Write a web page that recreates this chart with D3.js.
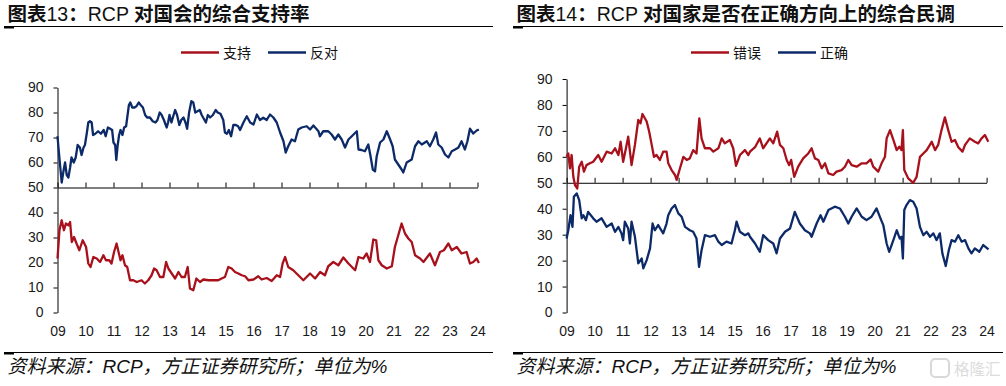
<!DOCTYPE html>
<html><head><meta charset="utf-8">
<script src="https://cdn.jsdelivr.net/npm/d3@7"></script>
<style>body{margin:0;background:#fff}svg{display:block}</style>
</head><body>
<svg id="c" width="1006" height="386"></svg>
<script>
// ---- data (decimal year, value %) ----
const yearTicks = d3.range(9, 25);
const valueTicks = [0,10,20,30,40,50,60,70,80,90];

const congressApprove = [[9.0,21.6],[9.07,32.9],[9.15,36.9],[9.23,32.9],[9.3,35.6],[9.39,34.9],[9.45,36.2],[9.51,28.2],[9.59,30.2],[9.68,27.6],[9.78,24.9],[9.9,28.9],[10.02,26.2],[10.1,19.6],[10.18,18.2],[10.28,22.2],[10.4,21.6],[10.52,20.2],[10.64,22.9],[10.73,20.9],[10.85,20.9],[10.93,19.6],[11.02,24.2],[11.11,27.6],[11.18,24.2],[11.25,20.9],[11.32,22.9],[11.41,18.9],[11.49,18.2],[11.59,12.9],[11.71,12.9],[11.83,12.2],[12.0,12.9],[12.12,11.6],[12.24,12.9],[12.36,14.9],[12.45,17.6],[12.54,16.9],[12.66,14.2],[12.78,14.2],[12.88,20.2],[12.96,17.6],[13.08,15.6],[13.2,13.6],[13.32,16.2],[13.43,14.2],[13.55,14.2],[13.65,18.2],[13.73,9.6],[13.85,8.9],[13.96,13.6],[14.09,12.2],[14.21,13.2],[14.39,12.9],[14.57,12.9],[14.74,12.9],[14.86,13.6],[14.98,14.2],[15.1,18.2],[15.22,17.6],[15.34,16.2],[15.46,15.6],[15.58,14.9],[15.7,14.5],[15.82,12.9],[16.0,13.2],[16.17,14.5],[16.29,13.2],[16.47,13.8],[16.65,12.6],[16.83,14.9],[16.95,14.2],[17.04,19.6],[17.13,22.2],[17.24,18.2],[17.42,16.9],[17.6,14.9],[17.78,12.9],[18.02,15.6],[18.2,13.6],[18.38,16.2],[18.55,14.9],[18.67,18.5],[18.85,20.2],[19.03,18.9],[19.21,22],[19.39,19.6],[19.63,16.9],[19.75,22.2],[19.92,21.6],[20.04,23.6],[20.16,20.2],[20.28,29.2],[20.38,28.9],[20.46,20.9],[20.58,18.9],[20.76,17.6],[20.94,18.5],[21.05,26.2],[21.17,30.9],[21.29,35.6],[21.41,31.6],[21.53,29.6],[21.65,28.2],[21.77,22.9],[21.95,21.6],[22.07,20.2],[22.3,23.6],[22.48,18.9],[22.66,24.2],[22.8,24.9],[22.96,27.6],[23.08,24.9],[23.26,26.2],[23.43,23.6],[23.61,24.2],[23.73,19.6],[23.85,20.2],[23.97,21.6],[24.05,19.8]];

const congressDisapprove = [[9.0,70.5],[9.05,64],[9.1,58],[9.15,52],[9.22,57],[9.27,60],[9.33,55],[9.39,54],[9.45,58],[9.5,62],[9.58,60],[9.65,62],[9.72,67],[9.8,66],[9.86,63],[9.93,66],[9.98,67],[10.05,72],[10.1,76],[10.16,76.5],[10.22,76],[10.27,71],[10.35,71.5],[10.45,72.5],[10.55,71.5],[10.65,73],[10.72,70.5],[10.8,74],[10.88,73.5],[10.95,73],[11.0,68],[11.06,67],[11.1,61],[11.15,67],[11.2,71],[11.25,73],[11.32,71],[11.38,74],[11.45,74.5],[11.55,83],[11.6,84],[11.67,82],[11.75,82],[11.82,82.5],[11.9,84],[11.97,83],[12.05,82],[12.13,79],[12.2,78],[12.3,78],[12.4,76.5],[12.5,76],[12.57,77],[12.65,80],[12.72,79],[12.8,77],[12.9,74],[12.95,76],[13.0,79],[13.07,76],[13.12,78],[13.2,81],[13.27,79],[13.35,75],[13.42,77],[13.5,78],[13.57,76],[13.63,73.5],[13.7,80],[13.78,84.5],[13.85,84],[13.92,80],[14.0,80.5],[14.08,81],[14.15,79],[14.25,77],[14.3,76],[14.37,79],[14.45,78],[14.55,79],[14.65,81],[14.72,80],[14.82,79.5],[14.92,77],[14.98,72],[15.05,71.5],[15.12,73],[15.2,70.5],[15.28,75],[15.37,75],[15.45,74.5],[15.52,73],[15.64,76],[15.76,78.5],[15.88,76],[16.0,75.2],[16.12,79.2],[16.23,77],[16.35,77.9],[16.47,77],[16.59,79.2],[16.71,78],[16.83,76],[16.95,72],[17.07,68.5],[17.15,64],[17.24,66.5],[17.36,69.2],[17.48,68.5],[17.6,73.2],[17.72,74],[17.9,74.5],[18.02,73.2],[18.14,74.8],[18.32,72.5],[18.37,70.5],[18.49,72.5],[18.67,72.5],[18.79,71.2],[18.91,69.2],[19.03,71.2],[19.15,69.2],[19.27,66],[19.39,69.2],[19.51,70.5],[19.69,72.5],[19.75,65.2],[19.86,65],[19.98,64.5],[20.1,67.2],[20.18,62.5],[20.26,57.2],[20.34,56.5],[20.4,62.5],[20.52,68],[20.64,69.2],[20.76,72.5],[20.88,69.2],[20.97,66.5],[21.05,61.2],[21.17,59.2],[21.29,57.2],[21.35,56],[21.47,60],[21.65,61.2],[21.77,66.5],[21.89,68.5],[22.01,67.2],[22.19,68.5],[22.3,66.5],[22.42,69.2],[22.52,72],[22.6,67.2],[22.72,66],[22.84,63.2],[22.96,62],[23.08,64.5],[23.2,65.2],[23.32,66],[23.43,68.5],[23.55,65.2],[23.64,68.5],[23.73,73.5],[23.85,71.6],[23.97,72.8],[24.05,73.2]];

const wrongTrack = [[9.0,60],[9.06,61.3],[9.12,55.6],[9.18,60.7],[9.24,52.3],[9.3,49.1],[9.38,47.8],[9.45,56.2],[9.54,58.1],[9.62,54.3],[9.71,56.8],[9.83,57.5],[9.95,58.1],[10.13,60.7],[10.25,58.1],[10.43,62],[10.61,61.3],[10.73,63.3],[10.85,60.7],[10.93,65.8],[11.02,58.1],[11.12,63.3],[11.2,67.8],[11.32,56.8],[11.44,64.6],[11.56,74.2],[11.64,72.9],[11.71,76.5],[11.86,73.6],[11.95,69.7],[12.04,64.6],[12.12,60],[12.21,60.7],[12.33,58.8],[12.45,62],[12.57,62],[12.63,57.5],[12.75,54.9],[12.87,53],[12.93,51.1],[13.05,55.6],[13.17,60],[13.29,58.8],[13.4,59.4],[13.52,62.6],[13.64,61.3],[13.74,74.8],[13.82,67.1],[13.94,63.3],[14.12,63.3],[14.24,62],[14.42,63.3],[14.54,67.1],[14.65,65.2],[14.83,66.5],[14.95,63.3],[15.05,56.5],[15.19,60.7],[15.37,62.6],[15.49,60.7],[15.55,62],[15.73,63.7],[15.9,67.1],[16.02,63.3],[16.26,67.1],[16.38,65.2],[16.52,69.7],[16.62,64.6],[16.74,63.3],[16.86,58.8],[16.95,56.8],[17.02,58.8],[17.13,52.3],[17.27,56.2],[17.45,59.4],[17.63,61.3],[17.75,63.3],[17.87,59.4],[17.99,58.8],[18.11,55.6],[18.23,57.5],[18.35,53.6],[18.52,53],[18.64,54.3],[18.82,54.9],[18.94,56.2],[19.06,58.8],[19.18,56.8],[19.36,56.2],[19.54,57.5],[19.71,57.5],[19.86,59],[19.95,56.2],[20.13,54.3],[20.25,57.5],[20.37,60],[20.43,67.1],[20.55,70.3],[20.67,66.5],[20.79,62.6],[20.88,63.9],[20.96,62.6],[21.01,70.3],[21.06,54.9],[21.2,51.7],[21.38,50],[21.5,52.3],[21.62,60],[21.74,61.3],[21.86,62.6],[22.04,65.8],[22.16,62.6],[22.27,64.6],[22.39,70.3],[22.51,75.2],[22.63,70.3],[22.75,65.8],[22.87,66.5],[22.99,63.7],[23.14,62],[23.23,64.6],[23.4,67.1],[23.58,65.8],[23.7,65.2],[23.82,67.1],[23.94,68.4],[24.06,65.8]];

const rightDirection = [[9.0,28.5],[9.06,31.7],[9.14,37.5],[9.21,33],[9.26,44.6],[9.36,45.9],[9.45,43.3],[9.54,36.3],[9.6,37.5],[9.69,35.6],[9.77,38.8],[9.95,36.3],[10.07,35],[10.25,36.3],[10.43,33],[10.61,34.3],[10.73,31.1],[10.85,33],[10.96,30.5],[11.02,27.9],[11.08,35],[11.2,32.4],[11.26,26.6],[11.32,35],[11.44,29.2],[11.56,18.9],[11.68,20.8],[11.74,17],[11.86,20.2],[11.98,24.7],[12.07,34.3],[12.15,31.7],[12.27,33.7],[12.45,30.5],[12.57,34.3],[12.63,37.5],[12.75,40.1],[12.87,41.4],[12.99,38.2],[13.11,36.9],[13.23,33],[13.4,31.7],[13.52,31.1],[13.64,28.5],[13.73,17.6],[13.82,24],[13.94,29.8],[14.12,29.2],[14.3,29.8],[14.42,27.3],[14.54,26],[14.71,27.3],[14.89,26.6],[15.01,31.7],[15.07,35],[15.19,31.1],[15.37,29.8],[15.49,30.5],[15.55,29.2],[15.73,26.6],[15.9,23.4],[16.02,29.8],[16.2,27.9],[16.38,26.6],[16.5,22.8],[16.62,28.5],[16.8,31.1],[16.98,32.4],[17.15,38.8],[17.33,34.3],[17.51,31.7],[17.69,30.5],[17.75,29.2],[17.93,34.3],[18.07,37.5],[18.17,35],[18.35,39.5],[18.58,40.8],[18.76,40.1],[18.94,36.9],[19.06,34.3],[19.18,36.9],[19.36,40.1],[19.54,36.9],[19.71,35.6],[19.89,36.9],[20.07,40.1],[20.21,36.3],[20.31,33.7],[20.43,26.6],[20.52,23.4],[20.67,27.9],[20.79,31.7],[20.9,28.5],[20.96,29.2],[21.01,20.8],[21.06,39.5],[21.14,41.4],[21.26,43.3],[21.38,42.7],[21.5,40.1],[21.62,33],[21.74,29.8],[21.86,31.1],[21.98,29.2],[22.1,30.5],[22.21,27.9],[22.33,30.5],[22.42,22.8],[22.54,17.9],[22.65,24],[22.75,27.9],[22.87,27.3],[22.99,29.8],[23.11,27.3],[23.23,27.9],[23.35,24.7],[23.46,22.8],[23.58,24.7],[23.74,23.4],[23.88,26],[24.07,24.3]];

const RED = "#a8111c", BLUE = "#0c2a68";
const LATIN = "'Liberation Sans', Arial, 'Noto Sans CJK SC', sans-serif";
const CJK = "'Liberation Sans', 'Noto Sans CJK SC', sans-serif";

const svg = d3.select("#c");

const charts = [
  {ox: 0, axisX: 57.5, y90: 87.5, title: ["图表", "13", "：", "RCP ", "对国会的综合支持率"],
   lineEnd: 493, legendX: 181,
   series: [{name:"支持", data: congressApprove, color: RED},
            {name:"反对", data: congressDisapprove, color: BLUE}]},
  {ox: 509, axisX: 566.6, y90: 79, title: ["图表", "14", "：", "RCP ", "对国家是否在正确方向上的综合民调"],
   lineEnd: 1003, legendX: 691,
   series: [{name:"错误", data: wrongTrack, color: RED},
            {name:"正确", data: rightDirection, color: BLUE}]}
];

charts.forEach(c => {
  const g = svg.append("g");
  const lx = c.ox + 4;
  // title: CJK parts heavier, Latin parts regular
  const t = g.append("text").attr("x", c.ox + 7.5).attr("y", 21)
    .attr("font-family", CJK).attr("font-size", 19.5).attr("fill", "#111");
  c.title.forEach(part => {
    const latin = /^[A-Za-z0-9 ]+$/.test(part);
    t.append("tspan").attr("font-weight", latin ? 400 : 600).text(part);
  });
  g.append("line").attr("x1", lx).attr("x2", c.lineEnd).attr("y1", 26.5).attr("y2", 26.5)
    .attr("stroke", "#000").attr("stroke-width", 1);
  g.append("rect").attr("x", lx).attr("y", 26).attr("width", 10).attr("height", 2.5).attr("fill", "#000");

  // legend
  let cx = c.legendX;
  c.series.forEach(s => {
    g.append("line").attr("x1", cx).attr("x2", cx + 38).attr("y1", 52.5).attr("y2", 52.5)
      .attr("stroke", s.color).attr("stroke-width", 2.5);
    g.append("text").attr("x", cx + 42).attr("y", 57.5)
      .attr("font-family", CJK).attr("font-size", 14).attr("fill", "#111").text(s.name);
    cx += 87;
  });

  // scales
  const x = d3.scaleLinear().domain([9, 24]).range([c.axisX, c.axisX + 420]);
  const y = d3.scaleLinear().domain([0, 90]).range([312.5, c.y90]);

  // y axis
  const ya = g.append("g").attr("transform", `translate(${c.axisX},0)`)
    .call(d3.axisLeft(y).tickValues(valueTicks).tickSize(4).tickSizeOuter(0).tickPadding(10));
  ya.selectAll("text").attr("font-family", LATIN).attr("font-size", 14).attr("fill", "#1a1a1a");
  ya.selectAll("line,path").attr("stroke", "#000");

  // x axis at 50 (ticks up)
  const xa = g.append("g").attr("transform", `translate(0,${y(50)})`)
    .call(d3.axisTop(x).tickValues(yearTicks).tickSize(5).tickSizeOuter(0).tickFormat(""));
  xa.selectAll("line,path").attr("stroke", "#000");

  // x labels at bottom
  const xl = g.append("g").attr("transform", `translate(0,${y(0)})`)
    .call(d3.axisBottom(x).tickValues(yearTicks).tickSize(0).tickPadding(13.5).tickFormat(d3.format("02d")));
  xl.select(".domain").remove();
  xl.selectAll("text").attr("font-family", LATIN).attr("font-size", 14).attr("fill", "#1a1a1a");

  // lines
  const line = d3.line().x(d => x(d[0])).y(d => y(d[1]));
  c.series.forEach(s => {
    g.append("path").datum(s.data).attr("d", line).attr("fill", "none")
      .attr("stroke", s.color).attr("stroke-width", 2.3).attr("stroke-linejoin", "round");
  });

  // source
  g.append("line").attr("x1", lx).attr("x2", c.lineEnd).attr("y1", 352.5).attr("y2", 352.5)
    .attr("stroke", "#000").attr("stroke-width", 1);
  g.append("rect").attr("x", lx).attr("y", 352).attr("width", 10).attr("height", 2.5).attr("fill", "#000");
  g.append("text").attr("x", c.ox + 7.5).attr("y", 373)
    .attr("font-family", CJK).attr("font-size", 19).attr("font-style", "italic")
    .attr("fill", "#111").text("资料来源：RCP，方正证券研究所；单位为%");
});

// watermark
svg.append("rect").attr("x", 931).attr("y", 359).attr("width", 18).attr("height", 18).attr("rx", 4)
  .attr("fill", "none").attr("stroke", "#d8d8d8").attr("stroke-width", 2);
svg.append("text").attr("x", 954).attr("y", 374.5).attr("font-family", CJK).attr("font-size", 15.5)
  .attr("fill", "#dcdcdc").text("格隆汇");
</script>
</body></html>
